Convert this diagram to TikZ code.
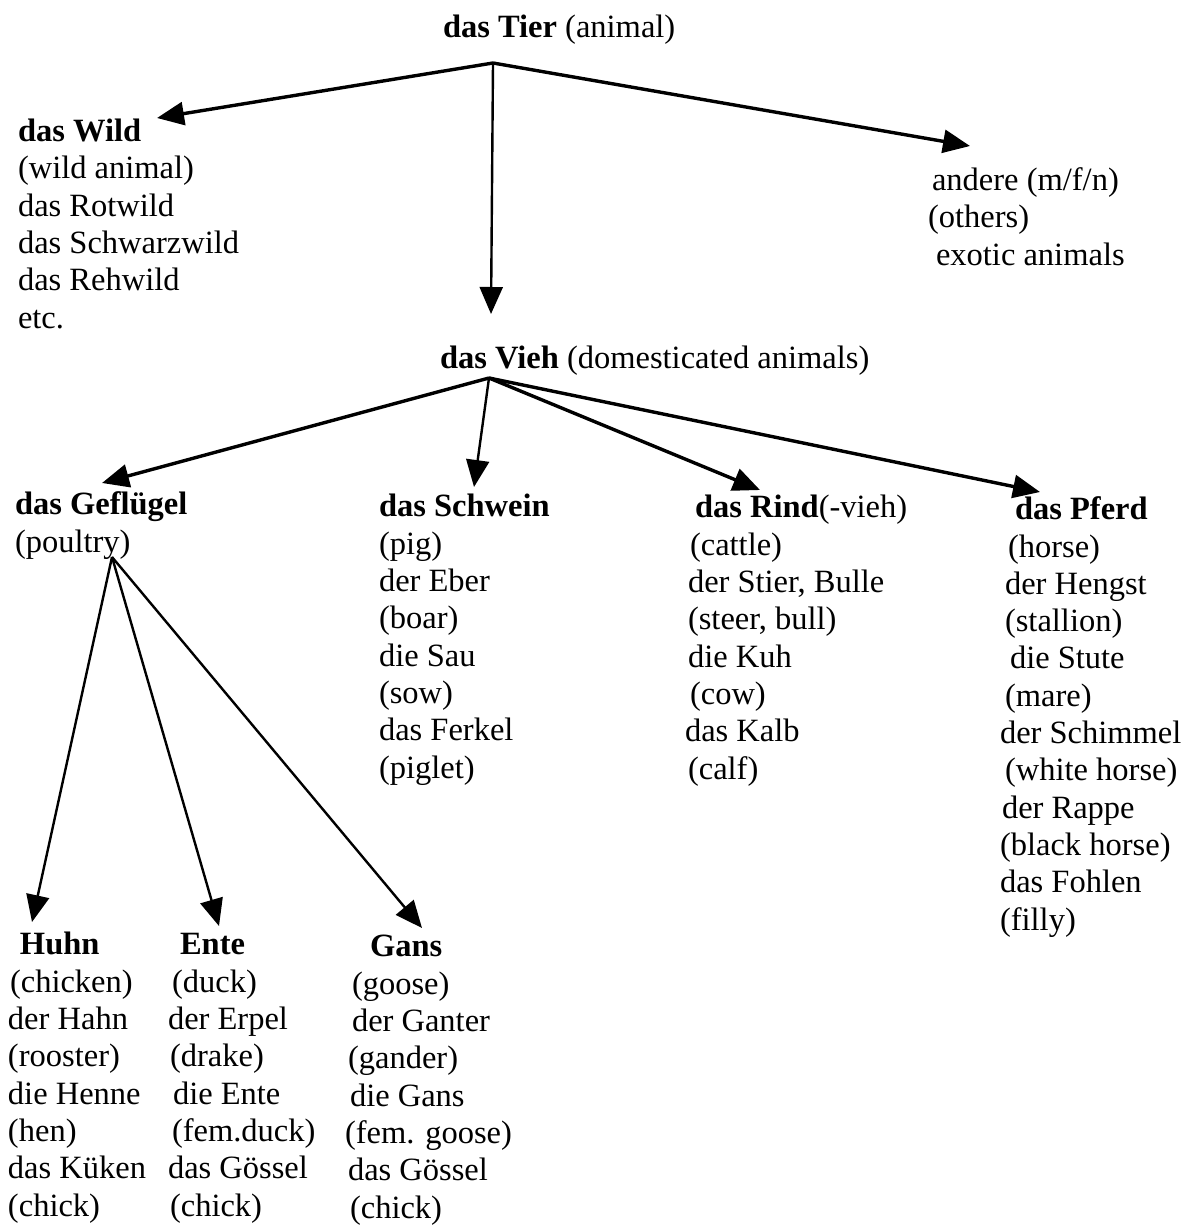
\documentclass[tikz,border=0pt]{standalone}
\usepackage{fontspec}
\setmainfont{Liberation Serif}
\usetikzlibrary{arrows.meta}
\begin{document}
\begin{tikzpicture}[x=1pt,y=-1pt,
  every node/.style={inner sep=0pt, outer sep=0pt},
  % multi-line entries are placed by the baseline of their last line
  entry/.style={anchor=base west, align=left, font=\fontsize{32.5}{37.3}\selectfont},
  link/.style={-{Triangle[length=27pt,width=23pt]}, line width=3.4pt, line join=round},
  thinlink/.style={link, line width=2.4pt}]
\useasboundingbox (0,0) rectangle (1200,1225);

% headings and word lists
\node[entry] (tier) at (443,38) {\textbf{das Tier} (animal)};

\node[entry] (wild) at (18,328) {\textbf{das Wild}\\(wild animal)\\das Rotwild\\das Schwarzwild\\das Rehwild\\etc.};

\node[entry] (others) at (928,265) {\hspace*{4pt}andere (m/f/n)\\(others)\\\hspace*{8pt}exotic animals};

\node[entry] (vieh) at (440,368) {\textbf{das Vieh} (domesticated animals)};

\node[entry] (gefl) at (15,552) {\textbf{das Geflügel}\\(poultry)};

\node[entry] (schwein) at (379,778) {\textbf{das Schwein}\\(pig)\\der Eber\\(boar)\\die Sau\\(sow)\\das Ferkel\\(piglet)};

\node[entry] (rind) at (685,779) {\hspace*{10pt}\textbf{das Rind}(-vieh)\\\hspace*{5pt}(cattle)\\\hspace*{3pt}der Stier, Bulle\\\hspace*{3pt}(steer, bull)\\\hspace*{3pt}die Kuh\\\hspace*{5pt}(cow)\\das Kalb\\\hspace*{3pt}(calf)};

\node[entry] (pferd) at (1000,930) {\hspace*{15pt}\textbf{das Pferd}\\\hspace*{8pt}(horse)\\\hspace*{5pt}der Hengst\\\hspace*{5pt}(stallion)\\\hspace*{10pt}die Stute\\\hspace*{5pt}(mare)\\der Schimmel\\\hspace*{5pt}(white horse)\\\hspace*{2pt}der Rappe\\(black horse)\\das Fohlen\\(filly)};

\node[entry] (huhn) at (8,1216) {\hspace*{12pt}\textbf{Huhn}\\\hspace*{2pt}(chicken)\\der Hahn\\(rooster)\\die Henne\\(hen)\\das Küken\\(chick)};

\node[entry] (ente) at (168,1216) {\hspace*{12pt}\textbf{Ente}\\\hspace*{4pt}(duck)\\der Erpel\\\hspace*{2pt}(drake)\\\hspace*{5pt}die Ente\\\hspace*{4pt}(fem.duck)\\das Gössel\\\hspace*{2pt}(chick)};

\node[entry] (gans) at (345,1218) {\hspace*{25pt}\textbf{Gans}\\\hspace*{7pt}(goose)\\\hspace*{7pt}der Ganter\\\hspace*{3pt}(gander)\\\hspace*{5pt}die Gans\\(fem. goose)\\\hspace*{3pt}das Gössel\\\hspace*{5pt}(chick)};

% branching points and arrow tips
\coordinate (tierfork) at (493,63);
\coordinate (wildtip) at (157,118);
\coordinate (otherstip) at (970,146);
\coordinate (viehtip) at (491,314);

\coordinate (viehfork) at (489,378);
\coordinate (gefltip) at (102,483);
\coordinate (schweintip) at (474,487);
\coordinate (rindtip) at (760,490);
\coordinate (pferdtip) at (1040,492);

\coordinate (geflfork) at (112,557);
\coordinate (huhntip) at (32,922);
\coordinate (entetip) at (219,926);
\coordinate (ganstip) at (422,928);

% connectors
\draw[link] (tierfork) -- (wildtip);
\draw[link] (tierfork) -- (otherstip);
\draw[thinlink] (tierfork) -- (viehtip);

\draw[link] (viehfork) -- (gefltip);
\draw[thinlink] (viehfork) -- (schweintip);
\draw[link] (viehfork) -- (rindtip);
\draw[link] (viehfork) -- (pferdtip);

\draw[thinlink] (geflfork) -- (huhntip);
\draw[thinlink] (geflfork) -- (entetip);
\draw[thinlink] (geflfork) -- (ganstip);
\end{tikzpicture}
\end{document}
